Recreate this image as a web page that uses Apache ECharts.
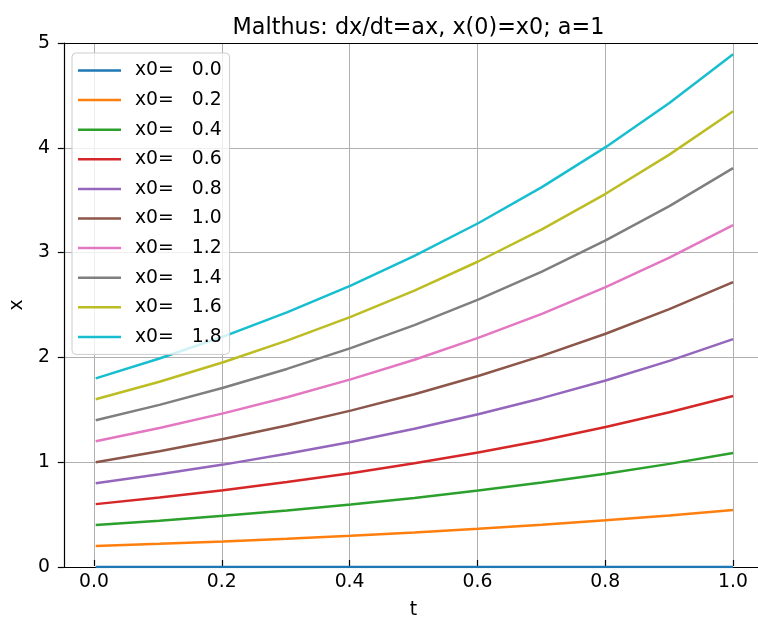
<!DOCTYPE html>
<html>
<head>
<meta charset="utf-8">
<script src="https://cdn.jsdelivr.net/npm/echarts@6/dist/echarts.min.js"></script>
<style>html,body{margin:0;padding:0;background:#fff}#c{width:758px;height:625px}</style>
</head>
<body>
<div id="c"></div>
<script>
const tValues = [0.0, 0.1, 0.2, 0.3, 0.4, 0.5, 0.6, 0.7, 0.8, 0.9, 1.0];
const seriesNames = ['x0=   0.0','x0=   0.2','x0=   0.4','x0=   0.6','x0=   0.8','x0=   1.0','x0=   1.2','x0=   1.4','x0=   1.6','x0=   1.8'];
const x00 = [0, 0, 0, 0, 0, 0, 0, 0, 0, 0, 0];
const x02 = [0.2, 0.221, 0.244, 0.270, 0.298, 0.330, 0.364, 0.403, 0.445, 0.492, 0.544];
const x04 = [0.4, 0.442, 0.489, 0.540, 0.597, 0.659, 0.729, 0.806, 0.890, 0.984, 1.087];
const x06 = [0.6, 0.663, 0.733, 0.810, 0.895, 0.989, 1.093, 1.208, 1.335, 1.476, 1.631];
const x08 = [0.8, 0.884, 0.977, 1.080, 1.193, 1.319, 1.458, 1.611, 1.780, 1.967, 2.175];
const x10 = [1.0, 1.105, 1.221, 1.350, 1.492, 1.649, 1.822, 2.014, 2.226, 2.460, 2.718];
const x12 = [1.2, 1.326, 1.466, 1.620, 1.790, 1.978, 2.186, 2.416, 2.671, 2.952, 3.262];
const x14 = [1.4, 1.547, 1.710, 1.890, 2.088, 2.308, 2.551, 2.819, 3.116, 3.444, 3.806];
const x16 = [1.6, 1.768, 1.954, 2.160, 2.387, 2.638, 2.915, 3.222, 3.561, 3.935, 4.349];
const x18 = [1.8, 1.989, 2.199, 2.430, 2.685, 2.968, 3.280, 3.625, 4.006, 4.427, 4.893];
const allSeries = [x00, x02, x04, x06, x08, x10, x12, x14, x16, x18];
const colors = ['#1f77b4','#ff7f0e','#2ca02c','#d62728','#9467bd','#8c564b','#e377c2','#7f7f7f','#bcbd22','#17becf'];

const FONT = '"DejaVu Sans", sans-serif';
const FS = 18.8;
const chart = echarts.init(document.getElementById('c'), null, {renderer: 'canvas'});
chart.setOption({
  animation: false,
  color: colors,
  textStyle: {fontFamily: FONT},
  title: {
    text: 'Malthus: dx/dt=ax, x(0)=x0; a=1',
    left: 413.5, textAlign: 'center', top: 12,
    textStyle: {fontFamily: FONT, fontSize: 22.3, fontWeight: 'normal', color: '#000'}
  },
  legend: {
    orient: 'vertical', left: 72, top: 53,
    padding: [8, 8, 8, 6],
    icon: 'rect',
    itemWidth: 43, itemHeight: 2.5, itemGap: 10.6,
    backgroundColor: 'rgba(255,255,255,0.8)',
    borderColor: '#cccccc', borderWidth: 1, borderRadius: 4,
    textStyle: {fontFamily: FONT, fontSize: FS, color: '#000', padding: [0, 0, 0, 9]},
    data: seriesNames
  },
  grid: [
    {left: 62, right: 0, top: 43, bottom: 58},
    {left: 94, right: 25, top: 43, bottom: 58}
  ],
  xAxis: [
    {type: 'value', gridIndex: 0, min: -0.05, max: 1.0391,
     axisLine: {show: true, onZero: false, lineStyle: {color: '#000', width: 1.2}}, axisTick: {show: false}, axisLabel: {show: false}, splitLine: {show: false}},
    {type: 'value', gridIndex: 1, min: 0, max: 1, interval: 0.2,
     name: 't', nameLocation: 'middle', nameGap: 41,
     nameTextStyle: {fontFamily: FONT, fontSize: FS, color: '#000'},
     axisLine: {show: false, onZero: false},
     axisTick: {show: true, length: 6, lineStyle: {color: '#000', width: 1.2}},
     axisLabel: {margin: 13, fontFamily: FONT, fontSize: FS, color: '#000', formatter: v => v.toFixed(1)},
     splitLine: {show: true, lineStyle: {color: '#b0b0b0', width: 1}}},
    {type: 'value', gridIndex: 0, position: 'top', min: -0.05, max: 1.0391,
     axisLine: {show: true, onZero: false, lineStyle: {color: '#000', width: 1.2}}, axisTick: {show: false}, axisLabel: {show: false}, splitLine: {show: false}}
  ],
  yAxis: [
    {type: 'value', gridIndex: 0, min: 0, max: 5, interval: 1,
     name: 'x', nameLocation: 'middle', nameGap: 34, nameRotate: 90,
     nameTextStyle: {fontFamily: FONT, fontSize: FS, color: '#000'},
     axisLine: {show: true, onZero: false, lineStyle: {color: '#000', width: 1.2}},
     axisTick: {show: true, length: 6, lineStyle: {color: '#000', width: 1.2}},
     axisLabel: {margin: 14, fontFamily: FONT, fontSize: FS, color: '#000'},
     splitLine: {show: true, lineStyle: {color: '#b0b0b0', width: 1}}},
    {type: 'value', gridIndex: 1, min: 0, max: 5, show: false}
  ],
  series: allSeries.map((vals, i) => ({
    name: seriesNames[i], type: 'line', xAxisIndex: 0, yAxisIndex: 0,
    data: tValues.map((t, j) => [t, vals[j]]),
    symbol: 'none', showSymbol: false,
    lineStyle: {width: 2.5, color: colors[i]},
    itemStyle: {color: colors[i]}
  }))
});
</script>
</body>
</html>
